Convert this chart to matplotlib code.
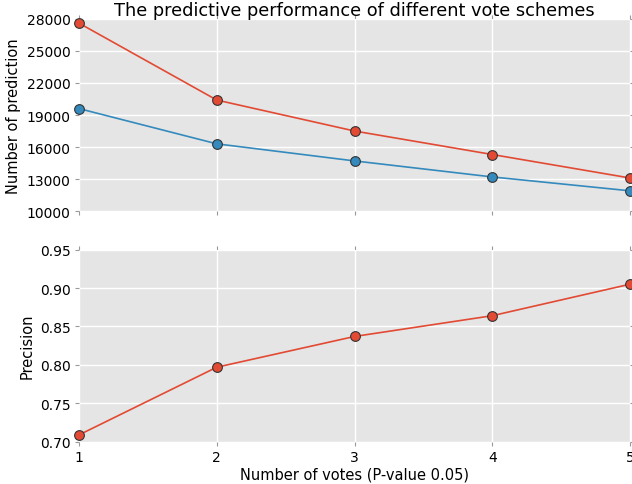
import numpy as np
import matplotlib
matplotlib.use('Agg')
import matplotlib.pyplot as plt

votes = [1, 2, 3, 4, 5]
pred_red = [27600, 20400, 17500, 15300, 13100]
pred_blue = [19600, 16300, 14700, 13200, 11900]
precision = [0.709, 0.797, 0.837, 0.864, 0.905]

plt.style.use('ggplot')
plt.rcParams['font.family'] = 'DejaVu Sans'
plt.rcParams['xtick.color'] = '#999999'
plt.rcParams['ytick.color'] = '#999999'
plt.rcParams['xtick.labelcolor'] = 'black'
plt.rcParams['ytick.labelcolor'] = 'black'

fig, (ax1, ax2) = plt.subplots(2, 1, sharex=True, figsize=(6.32, 4.85), dpi=100)
fig.subplots_adjust(left=0.125, right=0.997, top=0.959, bottom=0.087, hspace=0.2)

ax1.plot(votes, pred_red, color='#E24A33', marker='o', markersize=7,
         markeredgecolor='#333333', markeredgewidth=0.8, linewidth=1.2, clip_on=False, zorder=3)
ax1.plot(votes, pred_blue, color='#348ABD', marker='o', markersize=7,
         markeredgecolor='#333333', markeredgewidth=0.8, linewidth=1.2, clip_on=False, zorder=3)
ax1.set_ylim(10000, 28000)
ax1.set_yticks(np.arange(10000, 28001, 3000))
ax1.set_ylabel('Number of prediction', fontsize=10.5, color='black')
ax1.set_title('The predictive performance of different vote schemes', fontsize=12.8, color='black', pad=3)

ax2.plot(votes, precision, color='#E24A33', marker='o', markersize=7,
         markeredgecolor='#333333', markeredgewidth=0.8, linewidth=1.2, clip_on=False, zorder=3)
ax2.set_ylim(0.70, 0.95)
ax2.set_yticks(np.arange(0.70, 0.951, 0.05))
ax2.set_ylabel('Precision', fontsize=10.5, color='black')
ax2.set_xlabel('Number of votes (P-value 0.05)', fontsize=10.5, color='black', labelpad=2)
ax2.set_xlim(1, 5)
ax2.set_xticks(votes)

for ax in (ax1, ax2):
    ax.tick_params(direction='out', length=3, width=0.8, top=True, right=True, labelsize=10, pad=3)
    for s in ax.spines.values():
        s.set_visible(False)
    ax.grid(True, color='white', linewidth=1)
ax1.tick_params(labelbottom=False)

fig.savefig('out.png', dpi=100)
